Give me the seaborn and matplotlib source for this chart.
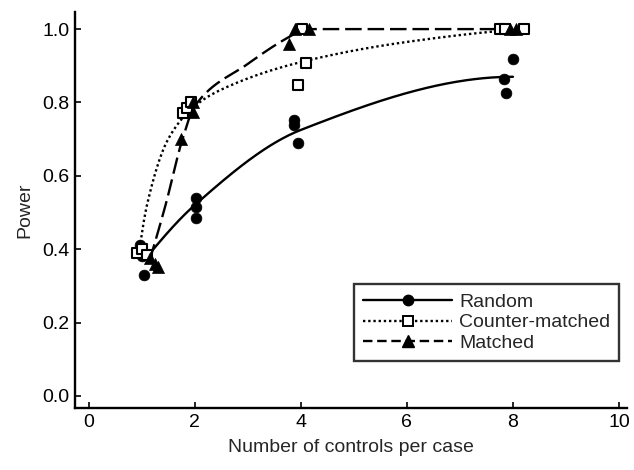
import numpy as np
import pandas as pd
import matplotlib
matplotlib.use("Agg")
import matplotlib.pyplot as plt
from matplotlib.lines import Line2D
import seaborn as sns

sns.set_theme(style="ticks")
plt.rcParams['font.family'] = ['Liberation Sans', 'DejaVu Sans']

# simulated points
random_x = [0.97, 1.0, 1.05, 2.02, 2.02, 2.03, 3.88, 3.88, 3.95, 7.83, 7.87, 8.0]
random_y = [0.41, 0.38, 0.33, 0.54, 0.515, 0.485, 0.752, 0.738, 0.69, 0.864, 0.826, 0.918]

counter_x = [0.92, 1.0, 1.1, 1.78, 1.86, 1.93, 3.94, 4.02, 4.09, 7.75, 7.85, 8.2]
counter_y = [0.39, 0.40, 0.385, 0.77, 0.785, 0.80, 0.847, 1.0, 0.907, 1.0, 1.0, 1.0]

matched_x = [1.15, 1.25, 1.3, 1.75, 1.97, 1.97, 3.78, 3.9, 4.15, 7.95, 8.05]
matched_y = [0.375, 0.36, 0.35, 0.70, 0.775, 0.80, 0.96, 1.0, 1.0, 1.0, 1.0]

# smoothed curves (knots)
random_curve_x = [1.05, 2.0, 4.0, 8.0]
random_curve_y = [0.37, 0.52, 0.725, 0.87]
counter_curve_x = [0.95, 1.1, 1.5, 2.0, 2.5, 4.0, 6.0, 8.2]
counter_curve_y = [0.39, 0.52, 0.70, 0.79, 0.835, 0.91, 0.965, 1.0]
matched_curve_x = [1.15, 1.45, 1.77, 2.0, 3.0, 3.8, 4.1, 8.0]
matched_curve_y = [0.37, 0.52, 0.70, 0.79, 0.905, 0.98, 1.0, 1.0]


def pchip(xk, yk, xs):
    xk = np.asarray(xk, float)
    yk = np.asarray(yk, float)
    h = np.diff(xk)
    d = np.diff(yk) / h
    n = len(xk)
    m = np.zeros(n)
    for k in range(1, n - 1):
        if d[k - 1] * d[k] > 0:
            w1 = 2 * h[k] + h[k - 1]
            w2 = h[k] + 2 * h[k - 1]
            m[k] = (w1 + w2) / (w1 / d[k - 1] + w2 / d[k])

    def end(h0, h1, d0, d1):
        v = ((2 * h0 + h1) * d0 - h0 * d1) / (h0 + h1)
        if np.sign(v) != np.sign(d0):
            return 0.0
        if np.sign(d0) != np.sign(d1) and abs(v) > 3 * abs(d0):
            return 3 * d0
        return v

    m[0] = end(h[0], h[1], d[0], d[1])
    m[-1] = end(h[-1], h[-2], d[-1], d[-2])
    idx = np.clip(np.searchsorted(xk, xs) - 1, 0, n - 2)
    t = (xs - xk[idx]) / h[idx]
    h00 = 2 * t**3 - 3 * t**2 + 1
    h10 = t**3 - 2 * t**2 + t
    h01 = -2 * t**3 + 3 * t**2
    h11 = t**3 - t**2
    return (h00 * yk[idx] + h10 * h[idx] * m[idx]
            + h01 * yk[idx + 1] + h11 * h[idx] * m[idx + 1])


fig = plt.figure(figsize=(6.34, 4.70), dpi=100)
ax = fig.add_axes([0.118, 0.132, 0.871, 0.842])

dash_styles = {
    'Random': None,
    'Counter-matched': (1.0, 1.2),
    'Matched': (7, 2.5),
}

curves = [
    ('Random', random_curve_x, random_curve_y),
    ('Counter-matched', counter_curve_x, counter_curve_y),
    ('Matched', matched_curve_x, matched_curve_y),
]
for name, cx, cy in curves:
    xs = np.linspace(cx[0], cx[-1], 300)
    ys = pchip(cx, cy, xs)
    line_df = pd.DataFrame({'x': xs, 'y': ys})
    sns.lineplot(data=line_df, x='x', y='y', ax=ax, color='black',
                 linewidth=1.7, estimator=None, sort=False)
    if dash_styles[name] is not None:
        ax.lines[-1].set_dashes(dash_styles[name])

sns.scatterplot(x=random_x, y=random_y, ax=ax, marker='o', s=60,
                color='black', edgecolor='black', linewidth=0.5, zorder=3)
sns.scatterplot(x=counter_x, y=counter_y, ax=ax, marker='s', s=62,
                facecolor='white', edgecolor='black', linewidth=1.5, zorder=3)
sns.scatterplot(x=matched_x, y=matched_y, ax=ax, marker='^', s=75,
                color='black', edgecolor='black', linewidth=0.5, zorder=3)

ax.set_xlim(-0.26, 10.15)
ax.set_ylim(-0.033, 1.046)
ax.set_xticks([0, 2, 4, 6, 8, 10])
ax.set_yticks([0.0, 0.2, 0.4, 0.6, 0.8, 1.0])
ax.set_yticklabels(['0.0', '0.2', '0.4', '0.6', '0.8', '1.0'])
ax.tick_params(direction='in', length=4, width=1.2, labelsize=14,
               colors='black', pad=4)
for side in ['top', 'right']:
    ax.spines[side].set_visible(False)
for side in ['left', 'bottom']:
    ax.spines[side].set_linewidth(1.7)
    ax.spines[side].set_color('black')

ax.set_xlabel('Number of controls per case', fontsize=14, labelpad=6)
ax.set_ylabel('Power', fontsize=14, labelpad=6)

handles = [
    Line2D([], [], color='black', lw=1.7, ls='-', marker='o', markersize=7.5),
    Line2D([], [], color='black', lw=1.7, ls=':', marker='s', markersize=7.5,
           markerfacecolor='white', markeredgewidth=1.4),
    Line2D([], [], color='black', lw=1.7, ls='--', marker='^', markersize=8.5),
]
handles[1].set_dashes((1.0, 1.2))
handles[2].set_dashes((4, 2))
leg = ax.legend(handles, ['Random', 'Counter-matched', 'Matched'],
                loc='lower right', bbox_to_anchor=(1.003, 0.095),
                numpoints=1, handlelength=4.6, handletextpad=0.35,
                labelspacing=0.15, fontsize=14, frameon=True,
                fancybox=False, borderpad=0.45)
leg.get_frame().set_edgecolor('black')
leg.get_frame().set_linewidth(1.7)

fig.savefig('out.png', dpi=100)
